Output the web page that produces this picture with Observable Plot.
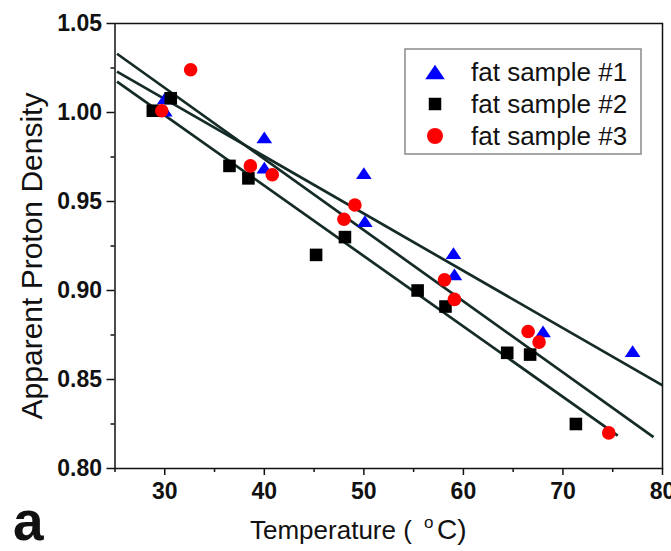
<!DOCTYPE html>
<html><head><meta charset="utf-8">
<script src="https://cdn.jsdelivr.net/npm/d3@7"></script>
<script src="https://cdn.jsdelivr.net/npm/@observablehq/plot@0.6"></script>
<style>
html,body{margin:0;padding:0;background:#fff;}
#chart{width:671px;height:551px;}
</style></head><body><div id="chart"></div>
<script>
// ---- data ----
const seriesNames = ["fat sample #1", "fat sample #2", "fat sample #3"];
const seriesColors = ["#0000ff", "#000000", "#ff0000"];
const seriesSymbols = ["triangle", "square", "circle"];

const s1Temp = [30, 30, 40, 40, 50, 50.1, 59, 59.1, 68, 77];
const s1APD  = [1.008, 1.001, 0.986, 0.969, 0.966, 0.939, 0.921, 0.909, 0.877, 0.866];

const s2Temp = [28.8, 30.6, 36.5, 38.4, 45.2, 48.1, 55.4, 58.2, 64.4, 66.7, 71.3];
const s2APD  = [1.001, 1.008, 0.970, 0.963, 0.920, 0.930, 0.900, 0.891, 0.865, 0.864, 0.825];

const s3Temp = [29.7, 32.6, 38.6, 40.8, 48.0, 49.1, 58.1, 59.1, 66.5, 67.6, 74.6];
const s3APD  = [1.001, 1.024, 0.970, 0.965, 0.940, 0.948, 0.906, 0.895, 0.877, 0.871, 0.820];

// linear fit lines (start/end), one per sample
const fitT0 = [25.2, 25.2, 25.2];
const fitP0 = [1.023, 1.0174, 1.033];
const fitT1 = [80.0, 75.5, 79.1];
const fitP1 = [0.8467, 0.8185, 0.8176];

const xTicks = [30, 40, 50, 60, 70, 80];
const xMinor = [25, 35, 45, 55, 65, 75];
const yTicks = [0.80, 0.85, 0.90, 0.95, 1.00, 1.05];
const yMinor = [0.825, 0.875, 0.925, 0.975, 1.025];

const xLabelParts = ["Temperature (", "o", "C)"];
const yLabel = "Apparent Proton Density";
const panelLabel = "a";

// ---- build ----
const font = "'Liberation Sans', Arial, Helvetica, sans-serif";
const toRows = (T, P, i) => T.map((t, k) => ({t, p: P[k], s: seriesNames[i]}));
const pts = [toRows(s1Temp, s1APD, 0), toRows(s2Temp, s2APD, 1), toRows(s3Temp, s3APD, 2)];
const fits = fitT0.map((t0, i) => ({t0, p0: fitP0[i], t1: fitT1[i], p1: fitP1[i]}));

// wide triangle (image is slightly stretched horizontally)
const wideTriangle = {
  draw(ctx, size) {
    const r = Math.sqrt(size / Math.PI);
    const w = 1.4 * r, h = 1.05 * r;
    ctx.moveTo(0, -h);
    ctx.lineTo(w, h);
    ctx.lineTo(-w, h);
    ctx.closePath();
  }
};

const W = 671, H = 551, mL = 114.5, mR = 9, mT = 23, mB = 83;

const plot = Plot.plot({
  width: W, height: H,
  marginLeft: mL, marginRight: mR, marginTop: mT, marginBottom: mB,
  style: {fontFamily: font, background: "#fff", overflow: "visible", color: "#111"},
  x: {domain: [25, 80]},
  y: {domain: [0.80, 1.05]},
  marks: [
    Plot.link(fits, {x1: "t0", y1: "p0", x2: "t1", y2: "p1", stroke: "#142b27", strokeWidth: 2.7}),
    Plot.dot(pts[0], {x: "t", y: "p", symbol: wideTriangle, r: 5.6, fill: seriesColors[0], stroke: "none"}),
    Plot.dot(pts[1], {x: "t", y: "p", symbol: "square", r: 7.1, fill: seriesColors[1], stroke: "none"}),
    Plot.dot(pts[2], {x: "t", y: "p", symbol: "circle", r: 6.8, fill: seriesColors[2], stroke: "none"}),
    Plot.frame({stroke: "#111", strokeWidth: 1.5}),
    Plot.axisX({ticks: xTicks, tickSize: 7, tickPadding: 7, tickFormat: d => String(d), fontSize: 23, fontWeight: "bold", label: null, strokeWidth: 1.5}),
    Plot.axisX({ticks: xMinor, tickSize: 4, tickFormat: () => "", label: null, strokeWidth: 1.5}),
    Plot.axisY({ticks: yTicks, tickSize: 8, tickPadding: 5, tickFormat: d3.format(".2f"), fontSize: 23, fontWeight: "bold", label: null, strokeWidth: 1.5}),
    Plot.axisY({ticks: yMinor, tickSize: 4, tickFormat: () => "", label: null, strokeWidth: 1.5})
  ]
});
document.getElementById("chart").appendChild(plot);

const svg = d3.select(plot);
svg.selectAll("text").style("fill", "#111");

// axis titles
const xt = svg.append("text")
  .attr("y", 539).attr("text-anchor", "start")
  .attr("font-family", font).attr("font-size", 26).attr("fill", "#111");
xt.append("tspan").attr("x", 250).text(xLabelParts[0]);
xt.append("tspan").attr("x", 424).attr("font-size", 17).attr("dy", -11).text(xLabelParts[1]);
xt.append("tspan").attr("x", 437).attr("font-size", 28).attr("dy", 11).text(xLabelParts[2]);

svg.append("text")
  .attr("transform", "translate(42,256) rotate(-90)")
  .attr("text-anchor", "middle")
  .attr("font-family", font).attr("font-size", 30).attr("fill", "#111")
  .text(yLabel);

svg.append("text")
  .attr("x", 13).attr("y", 540).attr("text-anchor", "start")
  .attr("font-family", font).attr("font-size", 55).attr("font-weight", "bold").attr("fill", "#111")
  .text(panelLabel);

// legend
const lg = svg.append("g");
lg.append("rect").attr("x", 405).attr("y", 49).attr("width", 236).attr("height", 105)
  .attr("fill", "#fff").attr("stroke", "#8a8a8a").attr("stroke-width", 1.5);
const legendSizes = [Math.PI * 7 * 7, 12.5 * 12.5, Math.PI * 8 * 8];
seriesNames.forEach((name, i) => {
  const cy = 72 + i * 32;
  const type = i === 0 ? wideTriangle : (i === 1 ? d3.symbolSquare : d3.symbolCircle);
  lg.append("path")
    .attr("d", d3.symbol(type, legendSizes[i])())
    .attr("transform", `translate(435,${cy})`)
    .attr("fill", seriesColors[i]);
  lg.append("text")
    .attr("x", 471).attr("y", cy + 9).attr("text-anchor", "start")
    .attr("font-family", font).attr("font-size", 26).attr("fill", "#111")
    .text(name);
});
</script>
</body></html>
